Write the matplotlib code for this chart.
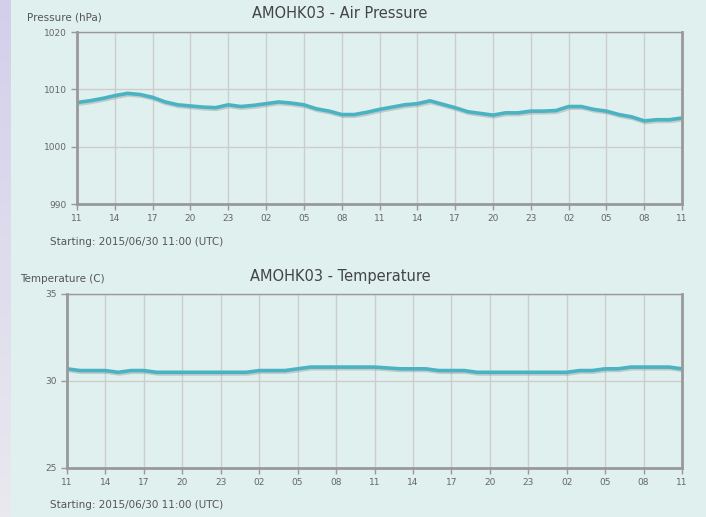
import matplotlib
matplotlib.use('Agg')
import matplotlib.pyplot as plt
import matplotlib.patheffects as pe
import numpy as np

# hourly readings starting 2015/06/30 11:00 UTC
hours = list(range(49))
pressure = [1007.7, 1008.0, 1008.4, 1008.9, 1009.3, 1009.1, 1008.6, 1007.8, 1007.3, 1007.1,
            1006.9, 1006.8, 1007.3, 1007.0, 1007.2, 1007.5, 1007.8, 1007.6, 1007.3, 1006.6,
            1006.2, 1005.6, 1005.6, 1006.0, 1006.5, 1006.9, 1007.3, 1007.5, 1008.0, 1007.4,
            1006.8, 1006.1, 1005.8, 1005.5, 1005.9, 1005.9, 1006.2, 1006.2, 1006.3, 1007.0,
            1007.0, 1006.5, 1006.2, 1005.6, 1005.2, 1004.5, 1004.7, 1004.7, 1005.0]
temperature = [30.7, 30.6, 30.6, 30.6, 30.5, 30.6, 30.6, 30.5, 30.5, 30.5,
               30.5, 30.5, 30.5, 30.5, 30.5, 30.6, 30.6, 30.6, 30.7, 30.8,
               30.8, 30.8, 30.8, 30.8, 30.8, 30.75, 30.7, 30.7, 30.7, 30.6,
               30.6, 30.6, 30.5, 30.5, 30.5, 30.5, 30.5, 30.5, 30.5, 30.5,
               30.6, 30.6, 30.7, 30.7, 30.8, 30.8, 30.8, 30.8, 30.7]
xtick_pos = list(range(0, 49, 3))
xtick_labels = ['11', '14', '17', '20', '23', '02', '05', '08'] * 2 + ['11']

bg = '#dff0ee'
line_col = '#4ab3c3'
W, H = 706, 517

fig = plt.figure(figsize=(W / 100, H / 100), dpi=100, facecolor=bg)

# lavender strip on the left edge
strip = fig.add_axes([0, 0, 11 / W, 1])
grad = np.linspace(0, 1, 100).reshape(-1, 1)
strip.imshow(grad, aspect='auto', cmap=matplotlib.colors.LinearSegmentedColormap.from_list(
    'lav', ['#d3cfeb', '#e9e9ef']))
strip.axis('off')


def panel(rect, y, yticks, ylabel, title, ylab_x, top_y):
    ax = fig.add_axes(rect)
    ax.set_facecolor(bg)
    ax.plot(hours, y, color=line_col, lw=2.6, solid_joinstyle='round',
            path_effects=[pe.SimpleLineShadow(offset=(0.8, -1.2), shadow_color='#888888', alpha=0.35),
                          pe.Normal()])
    ax.set_xlim(0, 48)
    ax.set_ylim(yticks[0], yticks[-1])
    ax.set_xticks(xtick_pos)
    ax.set_xticklabels(xtick_labels)
    ax.set_yticks(yticks)
    ax.grid(color='#cdcdcd', lw=1)
    ax.set_axisbelow(True)
    for s in ax.spines.values():
        s.set_color('#999999')
        s.set_linewidth(1.0)
    ax.spines['left'].set_linewidth(2)
    ax.spines['bottom'].set_linewidth(2)
    ax.spines['right'].set_linewidth(2)
    ax.tick_params(labelsize=6.5, colors='#999999', labelcolor='#666666', length=4, width=1)
    fig.text(ylab_x / W, 1 - top_y / H, ylabel, fontsize=7.5, color='#555555', va='center')
    fig.text(340 / W, 1 - (top_y - 3) / H, title, fontsize=10.5, color='#444444',
             ha='center', va='center')
    return ax


panel([77 / W, 1 - 204 / H, 605 / W, 172 / H], pressure, [990, 1000, 1010, 1020],
      'Pressure (hPa)', 'AMOHK03 - Air Pressure', 27, 17)
fig.text(50 / W, 1 - 242 / H, 'Starting: 2015/06/30 11:00 (UTC)', fontsize=7.5,
         color='#555555', va='center')

panel([67 / W, 1 - 468 / H, 615 / W, 174 / H], temperature, [25, 30, 35],
      'Temperature (C)', 'AMOHK03 - Temperature', 20, 279)
fig.text(50 / W, 1 - 505 / H, 'Starting: 2015/06/30 11:00 (UTC)', fontsize=7.5,
         color='#555555', va='center')

fig.savefig('out.png', dpi=100, facecolor=bg)
